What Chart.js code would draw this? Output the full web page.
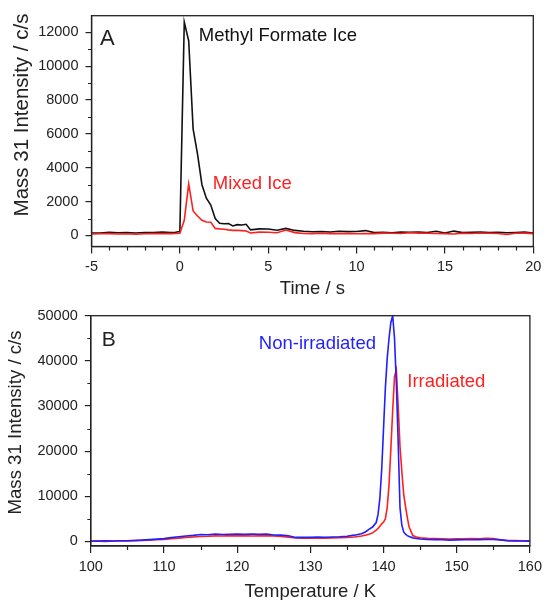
<!DOCTYPE html>
<html>
<head>
<meta charset="utf-8">
<script src="https://cdn.jsdelivr.net/npm/chart.js@4.4.1/dist/chart.umd.min.js"></script>
<style>
  html, body { margin: 0; padding: 0; background: #fff; }
  #wrap { position: relative; width: 547px; height: 600px; overflow: hidden; }
  canvas { position: absolute; left: 0; }
  #cA { top: 0; }
  #cB { top: 300px; }
</style>
</head>
<body>
<div id="wrap">
  <canvas id="cA" width="547" height="300"></canvas>
  <canvas id="cB" width="547" height="300"></canvas>
</div>
<script>
// ---------- Panel A data ----------
const timeA = [-5,-4.5,-4,-3.5,-3,-2.5,-2,-1.5,-1,-0.5,-0.25,0,0.25,0.5,0.75,1,1.25,1.5,1.75,2,2.25,2.5,2.75,3,3.25,3.5,3.75,4,4.5,5,5.5,6,6.5,7,7.5,8,8.5,9,9.5,10,10.5,11,11.5,12,12.5,13,13.5,14,14.5,15,15.5,16,16.5,17,17.5,18,18.5,19,19.5,20];
const methylFormateIce = [150,140,190,160,170,150,180,170,200,170,190,230,12600,11500,6300,4800,3000,2200,1800,1000,720,690,700,560,640,620,660,330,390,380,310,420,300,250,220,240,210,250,230,240,290,170,190,160,200,190,210,180,250,150,260,170,190,200,170,190,160,180,200,150];
const mixedIce = [90,100,110,90,100,70,100,110,120,110,120,130,900,3050,1450,1150,900,800,780,420,390,370,330,300,310,290,270,150,200,190,160,320,170,120,110,130,110,120,110,100,120,110,140,130,120,160,140,130,120,110,90,130,120,150,130,120,60,130,140,110];
const xTicksA = [-5,0,5,10,15,20];
const xMinorA = [-4,-3,-2,-1,1,2,3,4,6,7,8,9,11,12,13,14,16,17,18,19];
const yTicksA = [0,2000,4000,6000,8000,10000,12000];
const yMinorA = [1000,3000,5000,7000,9000,11000];

// ---------- Panel B data ----------
const tempB = [100,101,102,103,104,105,106,107,108,109,110,111,112,113,114,115,116,117,118,119,120,121,122,123,124,125,126,127,128,129,130,131,132,133,134,135,136,137,137.5,138,138.5,139,139.25,139.5,139.75,140,140.25,140.5,140.75,141,141.25,141.5,141.75,142,142.25,142.5,142.75,143,143.25,143.5,144,144.5,145,146,147,148,149,150,151,152,153,154,155,156,157,158,159,160];
const nonIrradiated = [120,100,130,110,150,160,220,300,420,520,640,850,1050,1200,1350,1550,1500,1650,1550,1600,1650,1600,1650,1600,1650,1450,1400,1250,900,950,900,1000,950,1000,1050,1150,1400,1700,2100,2700,3200,4200,6000,9600,16000,25000,34000,40500,45000,48500,50000,45000,35000,22000,7500,3600,2100,1600,1300,1100,800,650,550,450,420,380,300,350,400,380,420,450,430,350,150,120,100,90];
const irradiated = [50,80,30,100,120,130,180,240,300,380,450,600,750,900,1000,1100,1150,1250,1200,1300,1250,1300,1200,1250,1300,1200,1100,950,800,700,750,800,750,800,850,900,1000,1200,1400,1600,1900,2500,2900,3400,3900,4300,5000,7500,12500,20500,29000,36500,38000,30000,21000,15500,10500,7800,5300,3200,1300,1000,800,700,650,600,550,620,600,650,620,680,650,350,200,180,150,150];
const xTicksB = [100,110,120,130,140,150,160];
const xMinorB = [105,115,125,135,145,155];
const yTicksB = [0,10000,20000,30000,40000,50000];
const yMinorB = [5000,15000,25000,35000,45000];

const FONT = "'Liberation Sans', Arial, Helvetica, sans-serif";
const RED = '#ff1f1f';
const BLUE = '#1f1fff';
const BLACK = '#111111';
const AXIS = '#222222';

Chart.defaults.font.family = FONT;

const framePlugin = {
  id: 'frame',
  afterDraw(chart, args, o) {
    const { ctx, chartArea: a, scales } = chart;
    ctx.save();
    ctx.strokeStyle = AXIS;
    ctx.lineWidth = 1.2;
    ctx.beginPath();
    o.minorX.forEach(v => {
      const x = Math.round(scales.x.getPixelForValue(v)) + 0.5;
      ctx.moveTo(x, a.bottom); ctx.lineTo(x, a.bottom + 4);
    });
    o.minorY.forEach(v => {
      const y = Math.round(scales.y.getPixelForValue(v)) + 0.5;
      ctx.moveTo(a.left - 3.5, y); ctx.lineTo(a.left, y);
    });
    ctx.stroke();
    ctx.lineWidth = 1.3;
    ctx.strokeRect(a.left, a.top, a.right - a.left, a.bottom - a.top);
    // annotations in data coordinates
    o.notes.forEach(n => {
      ctx.font = n.size + 'px ' + FONT;
      ctx.fillStyle = n.color;
      ctx.textAlign = 'left';
      ctx.textBaseline = 'alphabetic';
      ctx.fillText(n.text, scales.x.getPixelForValue(n.x), scales.y.getPixelForValue(n.y));
    });
    // axis titles
    ctx.fillStyle = AXIS;
    ctx.textAlign = 'center';
    ctx.textBaseline = 'alphabetic';
    ctx.font = o.xTitle.size + 'px ' + FONT;
    ctx.fillText(o.xTitle.text, (a.left + a.right) / 2, o.xTitle.baseline);
    ctx.save();
    ctx.translate(o.yTitle.baseline, o.yTitle.center);
    ctx.rotate(-Math.PI / 2);
    ctx.font = o.yTitle.size + 'px ' + FONT;
    ctx.fillText(o.yTitle.text, 0, 0);
    ctx.restore();
    ctx.restore();
  }
};

function makeChart(id, cfg) {
  return new Chart(document.getElementById(id), {
    type: 'line',
    data: { datasets: cfg.datasets },
    plugins: [framePlugin],
    options: {
      responsive: false,
      animation: false,
      devicePixelRatio: 1,
      layout: { padding: cfg.padding },
      elements: { point: { radius: 0 }, line: { tension: 0, borderWidth: 1.6 } },
      plugins: {
        legend: { display: false },
        tooltip: { enabled: false },
        frame: cfg.frame
      },
      scales: {
        x: {
          type: 'linear', min: cfg.xMin, max: cfg.xMax,
          afterBuildTicks: s => { s.ticks = cfg.xTicks.map(v => ({ value: v })); },
          afterFit: s => { s.height = cfg.xHeight; },
          grid: { drawOnChartArea: false, tickLength: 7, color: AXIS, tickColor: AXIS, lineWidth: 1.2 },
          border: { color: AXIS, width: 1.3 },
          ticks: { font: { size: 14.5 }, color: AXIS, padding: 5, maxRotation: 0, autoSkip: false, callback: v => String(v) }
        },
        y: {
          type: 'linear', min: cfg.yMin, max: cfg.yMax,
          afterBuildTicks: s => { s.ticks = cfg.yTicks.map(v => ({ value: v })); },
          afterFit: s => { s.width = cfg.yWidth; },
          grid: { drawOnChartArea: false, tickLength: 6, color: AXIS, tickColor: AXIS, lineWidth: 1.2 },
          border: { color: AXIS, width: 1.3 },
          ticks: { font: { size: 14.5 }, color: AXIS, padding: 7, autoSkip: false, callback: v => String(v) }
        }
      }
    }
  });
}

makeChart('cA', {
  datasets: [
    { label: 'Mixed Ice', data: timeA.map((t, i) => ({ x: t, y: mixedIce[i] })), borderColor: RED, order: 0 },
    { label: 'Methyl Formate Ice', data: timeA.map((t, i) => ({ x: t, y: methylFormateIce[i] })), borderColor: BLACK, order: 1 }
  ],
  padding: { left: 0, right: 13.7, top: 12.7, bottom: 0 },
  xMin: -5, xMax: 20, yMin: -650, yMax: 12980,
  xTicks: xTicksA, yTicks: yTicksA, xHeight: 53.5, yWidth: 91.5,
  frame: {
    minorX: xMinorA, minorY: yMinorA,
    notes: [
      { text: 'A', x: -4.52, y: 11255, size: 22, color: AXIS },
      { text: 'Methyl Formate Ice', x: 1.07, y: 11488, size: 18.5, color: BLACK },
      { text: 'Mixed Ice', x: 1.86, y: 2743, size: 18.5, color: RED }
    ],
    xTitle: { text: 'Time / s', size: 18.5, baseline: 293.5 },
    yTitle: { text: 'Mass 31 Intensity / c/s', size: 20.5, baseline: 27.8, center: 115 }
  }
});

makeChart('cB', {
  datasets: [
    { label: 'Non-irradiated', data: tempB.map((t, i) => ({ x: t, y: nonIrradiated[i] })), borderColor: BLUE, order: 0 },
    { label: 'Irradiated', data: tempB.map((t, i) => ({ x: t, y: irradiated[i] })), borderColor: RED, order: 1 }
  ],
  padding: { left: 0, right: 14, top: 11, bottom: 0 },
  xMin: 100, xMax: 160, yMin: -1000, yMax: 50000,
  xTicks: xTicksB, yTicks: yTicksB, xHeight: 54, yWidth: 90.8,
  frame: {
    minorX: xMinorB, minorY: yMinorB,
    notes: [
      { text: 'B', x: 101.48, y: 43338, size: 21, color: AXIS },
      { text: 'Non-irradiated', x: 122.96, y: 42730, size: 18.5, color: BLUE },
      { text: 'Irradiated', x: 143.24, y: 34310, size: 18.5, color: RED }
    ],
    xTitle: { text: 'Temperature / K', size: 18.5, baseline: 296.5 },
    yTitle: { text: 'Mass 31 Intensity / c/s', size: 18.6, baseline: 21, center: 122.5 }
  }
});
</script>
</body>
</html>
